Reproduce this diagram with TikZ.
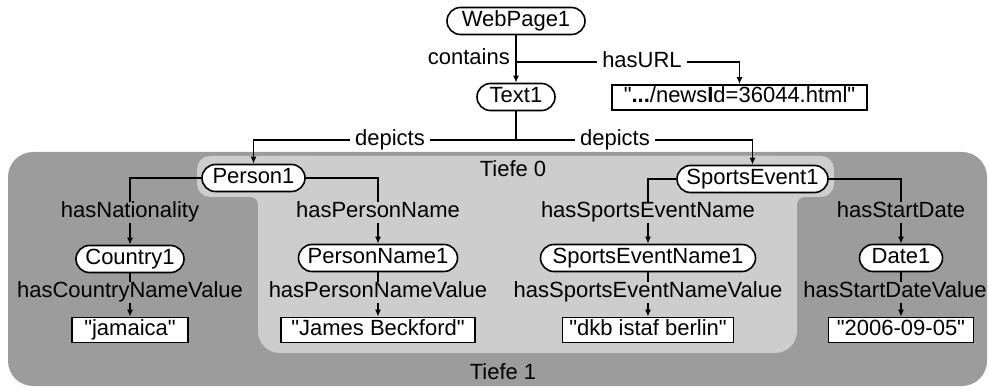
\documentclass[tikz,border=0pt]{standalone}
\usepackage{fontspec}
\setmainfont{Liberation Sans}[Ligatures=TeXOff]
\usetikzlibrary{arrows.meta}
\definecolor{outergray}{RGB}{156,156,156}
\definecolor{innergray}{RGB}{205,205,205}

\begin{document}
\begin{tikzpicture}[x=1pt,y=-1pt,
  every node/.style={font=\fontsize{22}{25}\selectfont, text height=15.5pt, text depth=4.5pt},
  pill/.style={draw, fill=white, line width=1.6pt, rounded corners=13.5pt,
               minimum height=27pt, inner xsep=0pt, inner ysep=0pt},
  valbox/.style={draw, fill=white, line width=1.6pt, minimum height=25pt, inner sep=0pt},
  rel/.style={inner sep=0pt},
  onwhite/.style={rel, fill=white, inner xsep=5pt},
  link/.style={line width=1.5pt},
  arr/.style={link, -{Latex[length=7pt,width=6pt]}},
]
\useasboundingbox (0,0) rectangle (989,390);

% depth regions
\fill[outergray, rounded corners=25pt] (8,152) rectangle (987,386);
\fill[innergray, rounded corners=22pt] (258,156) rectangle (797,353);
\fill[innergray, rounded corners=13pt] (197,156) rectangle (330,197);
\fill[innergray, rounded corners=13pt] (668,156) rectangle (834,197);
% concave fillets where the bumps meet the main region
\fill[innergray] (250,197) rectangle (258,205);
\fill[outergray] (250,205) circle (8pt);
\fill[innergray] (797,197) rectangle (805,205);
\fill[outergray] (805,205) circle (8pt);

\node[rel] (tiefe0) at (513,171.5) {Tiefe 0};
\node[rel] (tiefe1) at (503,374) {Tiefe 1};

% instances
\node[pill, minimum width=138pt] (web)    at (516,21)   {WebPage1};
\node[pill, minimum width=78pt]  (text)   at (516,97)   {Text1};
\node[valbox, minimum width=255pt] (url)  at (739.5,97.5) {"\textbf{...}/news\textbf{I}d=36044.html"};

\node[pill, minimum width=103pt] (person) at (253.5,178) {Person1};
\node[pill, minimum width=151pt] (event)  at (752.5,179) {SportsEvent1};

\node[pill, minimum width=108pt] (country) at (130,259) {Country1};
\node[pill, minimum width=159pt] (pname)   at (378,258) {PersonName1};
\node[pill, minimum width=215pt] (ename)   at (648,258) {SportsEventName1};
\node[pill, minimum width=83pt]  (date)    at (901,258) {Date1};

\node[valbox, minimum width=116pt] (vcountry) at (130,330) {"jamaica"};
\node[valbox, minimum width=194pt] (vpname)   at (378,330) {"James Beckford"};
\node[valbox, minimum width=171pt] (vename)   at (648,330) {"dkb istaf berlin"};
\node[valbox, minimum width=145pt] (vdate)    at (901,330) {"2006-09-05"};

% relation labels
\node[rel] (lnat)   at (130,212.5) {hasNationality};
\node[rel] (lpname) at (378,212.5) {hasPersonName};
\node[rel] (lename) at (648,212.5) {hasSportsEventName};
\node[rel] (ldate)  at (901,212.5) {hasStartDate};

\node[rel] (lcval)  at (130,292.5) {hasCountryNameValue};
\node[rel] (lpval)  at (378,292.5) {hasPersonNameValue};
\node[rel] (leval)  at (648,292.5) {hasSportsEventNameValue};
\node[rel] (ldval)  at (895,292.5) {hasStartDateValue};

% WebPage1 -> Text1 and URL
\coordinate (urlsplit) at (516,62);
\draw[arr] (web.south) -- (text.north);
\node[rel, anchor=east] (lcontains) at (510,59) {contains};
\draw[arr] (urlsplit) -| (url.north);
\node[onwhite] (lurl) at (642,62) {hasURL};

% Text1 -> Person1 / SportsEvent1
\coordinate (dsplit) at (516,140);
\draw[link] (text.south) -- (dsplit);
\draw[arr] (dsplit) -| (person.north);
\draw[arr] (dsplit) -| (event.north);
\node[onwhite] (ldep1) at (390,140) {depicts};
\node[onwhite] (ldep2) at (615,140) {depicts};

% Person1 branches
\draw[link] (person.west) -| (lnat.north);
\draw[arr] (lnat.south) -- (lnat.south |- country.north);
\draw[link] (person.east) -| (lpname.north);
\draw[arr] (lpname.south) -- (lpname.south |- pname.north);

% SportsEvent1 branches
\draw[link] (event.west) -| (lename.north);
\draw[arr] (lename.south) -- (lename.south |- ename.north);
\draw[link] (event.east) -| (ldate.north);
\draw[arr] (ldate.south) -- (ldate.south |- date.north);

% value links
\draw[link] (country.south) -- (lcval.north);
\draw[arr] (lcval.south) -- (lcval.south |- vcountry.north);
\draw[link] (pname.south) -- (lpval.north);
\draw[arr] (lpval.south) -- (lpval.south |- vpname.north);
\draw[link] (ename.south) -- (leval.north);
\draw[arr] (leval.south) -- (leval.south |- vename.north);
\draw[link] (date.south) -- (date.south |- ldval.north);
\draw[arr] (date.south |- ldval.south) -- (vdate.north);
\end{tikzpicture}
\end{document}
